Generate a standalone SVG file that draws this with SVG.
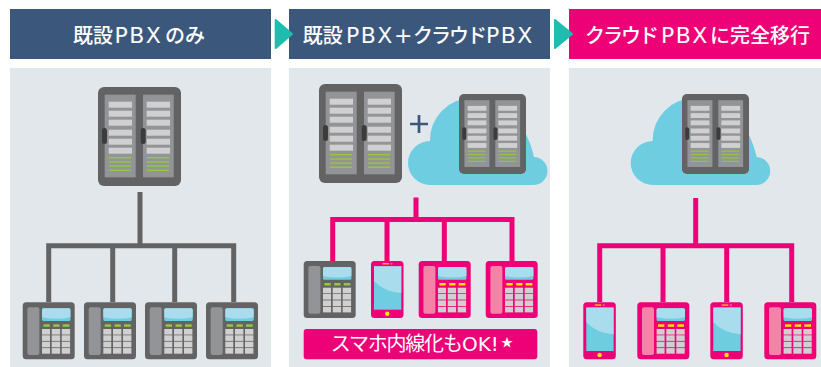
<svg xmlns="http://www.w3.org/2000/svg" width="821" height="367" viewBox="0 0 821 367">
<style>
.hd{font-family:"Noto Sans CJK JP","Noto Sans",sans-serif;font-weight:500;font-size:20px;fill:#fff}
.kn{letter-spacing:-2px}
.lt{font-family:"DejaVu Sans","Liberation Sans",sans-serif;font-size:22px;font-weight:400;letter-spacing:1.5px}
.navy{fill:#3c577c}.pink{fill:#ee0077}.bg{fill:#e2e7eb}.teal{fill:#1fbcb0;stroke:#1fbcb0;stroke-width:2;stroke-linejoin:round}
.cloud{fill:#6fcde1}
.g{fill:#636363}.m{fill:#929497}.l{fill:#d0d0d0}.gr{fill:#94c83d}.k{fill:#3c3c3c}
.cn{fill:none;stroke-width:5;stroke-linejoin:miter}.cg{stroke:#636363}.cp{stroke:#ee0077}
.hs{fill:#a9dcec}
</style>
<defs>
<symbol id="server" viewBox="0 0 83 99" preserveAspectRatio="none" overflow="visible">
<rect width="83" height="99" rx="6" class="g"/>
<rect x="6.7" y="7.7" width="31" height="82.6" class="m"/><rect x="45" y="7.7" width="30.7" height="82.6" class="m"/>
<g class="l">
<rect x="10.7" y="14.7" width="23.3" height="6"/><rect x="10.7" y="23.7" width="23.3" height="6"/><rect x="10.7" y="32.7" width="23.3" height="6"/><rect x="10.7" y="42.7" width="23.3" height="6"/><rect x="10.7" y="51.7" width="23.3" height="6"/><rect x="10.7" y="60.7" width="23.3" height="6"/>
<rect x="48.7" y="14.7" width="23.3" height="6"/><rect x="48.7" y="23.7" width="23.3" height="6"/><rect x="48.7" y="32.7" width="23.3" height="6"/><rect x="48.7" y="42.7" width="23.3" height="6"/><rect x="48.7" y="51.7" width="23.3" height="6"/><rect x="48.7" y="60.7" width="23.3" height="6"/>
</g>
<g class="gr">
<rect x="11" y="70" width="22" height="1.4"/><rect x="11" y="74.3" width="22" height="1.4"/><rect x="11" y="78.4" width="22" height="1.4"/><rect x="11" y="82.6" width="22" height="1.4"/>
<rect x="49" y="70" width="22" height="1.4"/><rect x="49" y="74.3" width="22" height="1.4"/><rect x="49" y="78.4" width="22" height="1.4"/><rect x="49" y="82.6" width="22" height="1.4"/>
</g>
<rect x="4" y="41" width="5" height="16" rx="2.5" class="k"/><rect x="42.7" y="41" width="5" height="16" rx="2.5" class="k"/>
</symbol>
<g id="keys" class="l">
<rect x="19.3" y="26.7" width="8" height="5.6"/><rect x="29" y="26.7" width="8.4" height="5.6"/><rect x="39" y="26.7" width="8.4" height="5.6"/>
<rect x="19.3" y="33" width="8" height="5.6"/><rect x="29" y="33" width="8.4" height="5.6"/><rect x="39" y="33" width="8.4" height="5.6"/>
<rect x="19.3" y="39.4" width="8" height="5.6"/><rect x="29" y="39.4" width="8.4" height="5.6"/><rect x="39" y="39.4" width="8.4" height="5.6"/>
<rect x="19.3" y="45.8" width="8" height="5.6"/><rect x="29" y="45.8" width="8.4" height="5.6"/><rect x="39" y="45.8" width="8.4" height="5.6"/>
</g>
<g id="screen">
<rect x="19.3" y="6" width="28.4" height="12.7" rx="1.5" class="cloud"/>
<path d="M19.3 7.5a1.5 1.5 0 0 1 1.5-1.5h25.4a1.5 1.5 0 0 1 1.5 1.5v7.5q-14 3-28.4 0z" class="hs"/>
</g>
<symbol id="desk-gray" overflow="visible">
<rect width="52" height="57" rx="3.5" class="g"/>
<rect x="4.7" y="5" width="12" height="47.7" rx="2" class="m"/>
<use href="#screen"/>
<g class="gr"><rect x="20.7" y="22" width="6.3" height="2.5"/><rect x="30.5" y="22" width="6.3" height="2.5"/><rect x="40" y="22" width="6.7" height="2.5"/></g>
<use href="#keys"/>
</symbol>
<symbol id="desk-pink" overflow="visible">
<rect width="52" height="57" rx="3.5" class="pink"/>
<rect x="4.7" y="5" width="12" height="47.7" rx="2" fill="#f583a8"/>
<use href="#screen"/>
<g fill="#ffe600"><rect x="20.7" y="22" width="6.3" height="2.5"/><rect x="30.5" y="22" width="6.3" height="2.5"/><rect x="40" y="22" width="6.7" height="2.5"/></g>
<use href="#keys"/>
</symbol>
<symbol id="smart" overflow="visible">
<rect width="32.5" height="57" rx="3.5" class="pink"/>
<rect x="3" y="5.3" width="27.3" height="43.4" class="cloud"/>
<path d="M3 5.3h27.3v26.7q-17-1-27.3-12z" class="hs"/>
<rect x="11.5" y="2.2" width="6.5" height="1.2" fill="#ffe600"/><rect x="19.5" y="2.2" width="2" height="1.2" fill="#f583a8"/>
<circle cx="16.3" cy="52.7" r="2.2" fill="#ffe600"/>
</symbol>
<path id="cloudshape" d="M430 185A22 22 0 0 1 430 141A42 42 0 0 1 472 98C505 98 527 125 534 157A14 14 0 0 1 533 185Z"/>
</defs>

<g id="panel-1">
<rect x="10" y="9" width="261" height="50" class="navy"/>
<text class="hd" y="43"><tspan x="73">既設</tspan><tspan class="lt" x="114.500">PBX</tspan><tspan x="165">のみ</tspan></text>
<rect x="10" y="68" width="261" height="299" class="bg"/>
</g>
<g id="panel-2">
<rect x="289" y="9" width="261" height="50" class="navy"/>
<text class="hd" y="43"><tspan x="302.700">既設</tspan><tspan class="lt" x="346">PBX</tspan><tspan class="lt" x="394">+</tspan><tspan class="kn" x="413">クラウド</tspan><tspan class="lt" x="486">PBX</tspan></text>
<rect x="289" y="68" width="261" height="299" class="bg"/>
</g>
<g id="panel-3">
<rect x="569" y="9" width="252" height="50" class="pink"/>
<text class="hd" y="43"><tspan class="kn" x="585">クラウド</tspan><tspan class="lt" x="661">PBX</tspan><tspan x="710">に</tspan><tspan x="730">完全移行</tspan></text>
<rect x="569" y="68" width="252" height="299" class="bg"/>
</g>
<g id="arrow-1"><path d="M275.700 20V48L292 34Z" class="teal"/></g>
<g id="arrow-2"><path d="M555 20V48L572 34Z" class="teal"/></g>

<g id="connectors">
<path class="cn cg" d="M140 192V245.700M48.700 302V245.700H233.700V302M112.700 245.700V302M174.700 245.700V302"/>
<path class="cn cp" d="M416 197.500V219.500M332.700 261V219.500H512V261M387 219.500V261M444.300 219.500V261"/>
<path class="cn cp" d="M695.700 198V245.700M599.700 302V245.700H791.700V302M663 245.700V302M726.700 245.700V302"/>
</g>

<g id="server-1"><use href="#server" x="98" y="87" width="83" height="99"/></g>
<g id="phone-1-1"><use href="#desk-gray" x="22.700" y="302.300"/></g>
<g id="phone-1-2"><use href="#desk-gray" x="84" y="302.300"/></g>
<g id="phone-1-3"><use href="#desk-gray" x="145" y="302.300"/></g>
<g id="phone-1-4"><use href="#desk-gray" x="206" y="302.300"/></g>

<g id="server-2"><use href="#server" x="319" y="84" width="83" height="99"/></g>
<g id="plus"><path d="M419 115V133M410 124H428" stroke="#3c577c" stroke-width="2.700" fill="none"/></g>
<g id="cloud-2"><use href="#cloudshape" class="cloud"/><use href="#server" x="459" y="94" width="67" height="80"/></g>
<g id="phone-2-1"><use href="#desk-gray" x="303.700" y="261"/></g>
<g id="phone-2-2"><use href="#smart" x="371" y="261"/></g>
<g id="phone-2-3"><use href="#desk-pink" x="418.700" y="261"/></g>
<g id="phone-2-4"><use href="#desk-pink" x="485.700" y="261"/></g>
<g id="badge">
<rect x="303.700" y="329" width="233.600" height="30.300" rx="3" class="pink"/>
<text x="330.700" y="351" class="hd" style="font-weight:400;letter-spacing:-1.200px">スマホ内線化も<tspan class="lt" x="462" style="letter-spacing:0;font-size:20px">OK!</tspan><tspan x="501" y="347" font-size="12" style="letter-spacing:0">★</tspan></text>
</g>

<g id="cloud-3"><use href="#cloudshape" x="222.700" class="cloud"/><use href="#server" x="682" y="94" width="67" height="80"/></g>
<g id="phone-3-1"><use href="#smart" x="583.300" y="302.300"/></g>
<g id="phone-3-2"><use href="#desk-pink" x="637.300" y="302.300"/></g>
<g id="phone-3-3"><use href="#smart" x="710.300" y="302.300"/></g>
<g id="phone-3-4"><use href="#desk-pink" x="764.300" y="302.300"/></g>
</svg>
